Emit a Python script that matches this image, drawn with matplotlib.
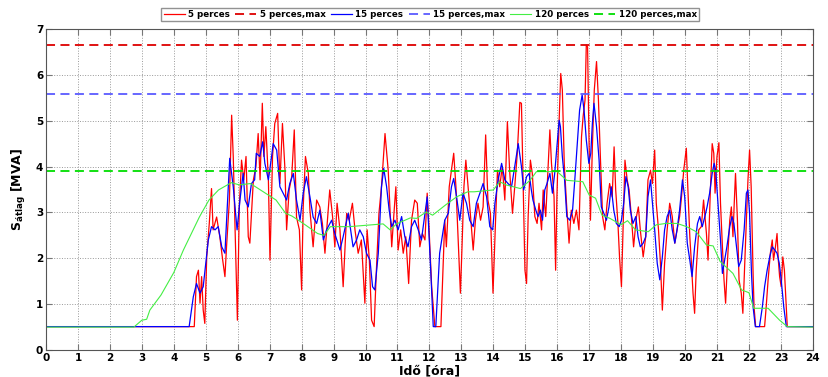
import matplotlib
matplotlib.use('Agg')
import matplotlib.pyplot as plt

# 5 perces atlag (hours, MVA)
t_5 = [0, 4.64, 4.71, 4.77, 4.82, 4.87, 4.92, 4.97, 5.03, 5.11, 5.18, 5.23, 5.34, 5.44, 5.53, 5.60, 5.65, 5.74,
       5.81, 5.86, 5.92, 5.99, 6.05, 6.12, 6.19, 6.26, 6.33, 6.38, 6.49, 6.57, 6.64, 6.70, 6.77, 6.82, 6.88, 6.96,
       7.01, 7.09, 7.16, 7.25, 7.32, 7.40, 7.48, 7.53, 7.61, 7.69, 7.77, 7.84, 7.93, 8.00, 8.05, 8.12, 8.21, 8.26,
       8.36, 8.47, 8.57, 8.65, 8.73, 8.88, 8.97, 9.04, 9.11, 9.20, 9.30, 9.41, 9.49, 9.59, 9.67, 9.77, 9.87, 9.98,
       10.05, 10.12, 10.19, 10.27, 10.34, 10.42, 10.50, 10.61, 10.71, 10.82, 10.89, 10.95, 11.02, 11.10, 11.18,
       11.26, 11.35, 11.44, 11.54, 11.62, 11.70, 11.78, 11.86, 11.93, 11.99, 12.07, 12.17, 12.36, 12.43, 12.48,
       12.53, 12.62, 12.69, 12.76, 12.83, 12.90, 12.97, 13.02, 13.08, 13.14, 13.21, 13.28, 13.37, 13.44, 13.52,
       13.60, 13.68, 13.76, 13.83, 13.91, 13.99, 14.07, 14.13, 14.20, 14.28, 14.36, 14.44, 14.51, 14.60, 14.67,
       14.75, 14.83, 14.88, 14.99, 15.04, 15.09, 15.16, 15.22, 15.30, 15.37, 15.43, 15.51, 15.56, 15.64, 15.71,
       15.77, 15.82, 15.90, 15.95, 15.99, 16.06, 16.11, 16.16, 16.22, 16.29, 16.37, 16.44, 16.52, 16.60, 16.68,
       16.76, 16.81, 16.87, 16.91, 16.95, 16.99, 17.04, 17.10, 17.16, 17.23, 17.29, 17.35, 17.42, 17.49, 17.56,
       17.64, 17.72, 17.78, 17.83, 17.90, 17.95, 18.01, 18.06, 18.12, 18.19, 18.25, 18.32, 18.39, 18.48, 18.54,
       18.60, 18.69, 18.77, 18.84, 18.92, 18.98, 19.05, 19.10, 19.17, 19.23, 19.29, 19.36, 19.44, 19.52, 19.60,
       19.68, 19.75, 19.83, 19.89, 19.96, 20.04, 20.09, 20.15, 20.20, 20.25, 20.30, 20.35, 20.43, 20.51, 20.58,
       20.67, 20.72, 20.79, 20.85, 20.90, 20.94, 21.00, 21.06, 21.11, 21.17, 21.22, 21.27, 21.33, 21.40, 21.45,
       21.50, 21.54, 21.58, 21.64, 21.69, 21.76, 21.81, 21.86, 21.92, 21.97, 22.02, 22.07, 22.13, 22.16, 22.21,
       22.49, 22.54, 22.60, 22.67, 22.73, 22.77, 22.83, 22.88, 22.92, 22.96, 23.01, 23.06, 23.11, 23.17, 23.20, 24]
s_5 = [0.51, 0.51, 1.6, 1.74, 1.02, 1.6, 0.87, 0.58, 2.03, 2.76, 3.52, 2.62, 2.9, 2.47, 1.96, 1.6, 2.25, 3.27,
       5.12, 4.22, 2.54, 0.65, 3.12, 4.14, 3.71, 4.22, 2.47, 2.33, 3.71, 4.0, 4.72, 3.71, 5.38, 4.22, 4.87, 3.71,
       1.96, 4.22, 4.94, 5.16, 3.63, 4.94, 3.92, 2.62, 3.49, 3.78, 4.8, 2.9, 2.62, 1.31, 3.12, 4.22, 3.85, 3.05,
       2.25, 3.27, 3.12, 2.76, 2.11, 3.49, 2.9, 2.25, 3.2, 2.62, 1.38, 2.98, 2.83, 3.2, 2.62, 2.11, 2.4, 1.02,
       2.62, 1.96, 0.65, 0.51, 1.74, 2.98, 3.56, 4.72, 3.92, 2.25, 2.98, 3.56, 2.18, 2.62, 2.11,
       2.47, 1.45, 2.83, 3.27, 3.2, 2.25, 2.54, 2.4, 3.42, 2.62, 1.38, 0.51, 0.51, 1.89, 2.83,
       2.25, 3.56, 3.92, 4.29, 3.56, 2.4, 1.24, 2.25, 3.56, 4.14, 3.56, 2.98, 2.18, 2.83, 3.2,
       2.83, 3.12, 4.69, 3.27, 2.98, 1.24, 2.83, 3.92, 3.56, 4.0, 3.27, 4.98, 3.92, 2.98, 3.56,
       4.29, 5.4, 5.38, 1.74, 1.45, 2.91, 4.14, 3.85, 2.91, 2.76, 3.2, 2.62, 3.49, 2.91, 3.92,
       4.8, 4.07, 3.34, 1.74, 3.34, 5.01, 6.03, 5.67, 4.07, 3.2, 2.33, 3.05, 2.76, 3.05, 2.62,
       4.65, 5.09, 5.45, 6.65, 6.61, 4.8, 2.83, 4.43, 5.67, 6.29, 5.45, 4.22, 2.91, 2.62, 3.2,
       3.63, 3.34, 4.43, 3.49, 2.76, 2.03, 1.38, 2.62, 4.14, 3.71, 3.49, 2.91, 2.25, 2.91, 3.12,
       2.62, 2.03, 2.47, 3.71, 3.92, 3.63, 4.36, 3.2, 2.62, 1.89, 0.87, 1.89, 2.62, 3.2, 2.91,
       2.33, 2.62, 2.91, 3.34, 3.92, 4.4, 3.49, 2.47, 1.89, 1.24, 0.8, 1.74, 2.62, 2.69, 3.27,
       2.54, 1.96, 3.42, 4.5, 4.29, 3.42, 4.22, 4.52, 3.2, 2.25, 1.53, 1.02, 1.96, 2.83, 3.12,
       2.47, 3.2, 3.85, 2.83, 1.53, 1.24, 0.8, 1.74, 2.83, 3.71, 4.36, 3.56, 1.67, 0.94, 0.51,
       0.51, 0.94, 1.53, 2.11, 2.4, 1.96, 2.25, 2.54, 1.96, 1.6, 1.38, 2.03, 1.74, 0.94, 0.51, 0.51]

# 15 perces atlag
t_15 = [0, 4.48, 4.61, 4.71, 4.82, 4.92, 4.97, 5.08, 5.18, 5.29, 5.39, 5.50, 5.60, 5.70, 5.75, 5.86, 5.98, 6.07,
        6.17, 6.23, 6.33, 6.43, 6.53, 6.58, 6.69, 6.78, 6.85, 6.96, 7.06, 7.11, 7.22, 7.32, 7.42, 7.53, 7.63, 7.74,
        7.84, 7.95, 8.05, 8.15, 8.26, 8.36, 8.47, 8.57, 8.68, 8.78, 8.94, 9.04, 9.20, 9.30, 9.46, 9.61, 9.72, 9.82,
        9.93, 10.03, 10.14, 10.22, 10.29, 10.40, 10.50, 10.57, 10.66, 10.74, 10.82, 10.92, 11.02, 11.13, 11.23,
        11.33, 11.44, 11.54, 11.65, 11.75, 11.86, 11.93, 11.98, 12.05, 12.12, 12.20, 12.32, 12.48, 12.59, 12.69,
        12.76, 12.85, 12.95, 13.05, 13.16, 13.26, 13.37, 13.47, 13.58, 13.68, 13.79, 13.89, 13.98, 14.05, 14.15,
        14.26, 14.36, 14.46, 14.57, 14.67, 14.78, 14.88, 14.95, 15.04, 15.12, 15.19, 15.24, 15.33, 15.40, 15.47,
        15.54, 15.61, 15.68, 15.77, 15.85, 15.92, 15.99, 16.06, 16.10, 16.16, 16.23, 16.30, 16.39, 16.48, 16.55,
        16.62, 16.70, 16.78, 16.84, 16.91, 16.99, 17.05, 17.10, 17.15, 17.23, 17.31, 17.38, 17.46, 17.54, 17.62,
        17.69, 17.77, 17.85, 17.94, 18.01, 18.08, 18.15, 18.22, 18.29, 18.37, 18.46, 18.53, 18.60, 18.69, 18.77,
        18.84, 18.92, 18.98, 19.05, 19.13, 19.21, 19.29, 19.36, 19.44, 19.52, 19.60, 19.68, 19.75, 19.83, 19.92,
        19.99, 20.07, 20.15, 20.22, 20.30, 20.39, 20.46, 20.54, 20.62, 20.69, 20.77, 20.85, 20.91, 20.96, 21.03,
        21.11, 21.17, 21.24, 21.31, 21.40, 21.47, 21.53, 21.61, 21.68, 21.76, 21.85, 21.92, 21.97, 22.02, 22.08,
        22.13, 22.20, 22.33, 22.42, 22.49, 22.57, 22.65, 22.73, 22.81, 22.88, 22.95, 23.01, 23.09, 23.17, 24]
s_15 = [0.51, 0.51, 1.16, 1.45, 1.24, 1.38, 1.7, 2.4, 2.69, 2.62, 2.69, 2.25, 2.11, 3.49, 4.18, 3.56, 2.62, 3.27,
        3.85, 3.27, 3.12, 3.63, 3.71, 4.29, 4.22, 4.54, 4.07, 3.71, 4.22, 4.5, 4.36, 3.56, 3.42, 3.27, 3.63, 3.85,
        3.27, 2.83, 3.42, 3.78, 3.34, 2.9, 2.76, 3.05, 2.4, 2.62, 2.83, 2.54, 2.18, 2.47, 2.98, 2.25, 2.4, 2.62,
        2.47, 2.11, 1.96, 1.38, 1.31, 2.11, 3.56, 3.96, 3.56, 3.05, 2.69, 2.83, 2.62, 2.91, 2.47,
        2.25, 2.69, 2.83, 2.62, 2.4, 2.98, 3.34, 2.62, 1.6, 0.51, 0.51, 2.11, 2.83, 2.98, 3.56,
        3.74, 3.34, 2.83, 3.42, 3.2, 2.83, 2.69, 3.2, 3.42, 3.63, 3.34, 2.69, 2.62, 3.2, 3.71,
        4.07, 3.71, 3.63, 3.56, 4.0, 4.5, 4.0, 3.49, 3.78, 3.85, 3.49, 3.27, 3.05, 2.91, 3.05,
        2.83, 3.49, 3.63, 3.85, 3.42, 3.85, 4.43, 5.01, 4.87, 4.22, 3.71, 2.91, 2.83, 3.05, 3.71,
        4.43, 5.23, 5.56, 5.23, 4.58, 4.07, 4.29, 4.94, 5.38, 4.87, 4.14, 3.12, 2.98, 2.83, 3.12,
        3.56, 3.05, 2.76, 2.69, 2.83, 3.2, 3.78, 3.56, 3.05, 2.76, 2.91, 2.47, 2.25, 2.33, 2.47,
        3.34, 3.71, 3.2, 2.62, 1.89, 1.53, 2.03, 2.62, 2.91, 3.05, 2.62, 2.33, 2.62, 3.05, 3.71,
        3.34, 2.33, 1.96, 1.6, 2.25, 2.76, 2.91, 2.69, 2.91, 3.12, 3.42, 3.85, 4.07, 3.92, 3.2,
        2.4, 1.67, 1.96, 2.25, 2.69, 2.91, 2.76, 2.25, 1.82, 1.96, 2.62, 3.42, 3.49, 2.98, 1.67,
        0.94, 0.51, 0.51, 0.94, 1.38, 1.74, 2.03, 2.25, 2.18, 2.11, 1.89, 1.53, 0.94, 0.51, 0.51]

# 120 perces atlag
t_120 = [0, 2.75, 3.0, 3.15, 3.25, 3.6, 4.0, 4.3, 4.8, 5.1, 5.4, 5.8, 6.05, 6.4, 6.8, 7.2, 7.5, 7.7, 8.05, 8.5,
         8.7, 8.9, 9.5, 10.55, 10.77, 10.97, 11.4, 11.6, 11.9, 12.1, 12.5, 12.85, 13.2, 13.4, 14.0, 14.2, 14.4,
         14.85, 15.15, 15.35, 16.0, 16.3, 16.8, 17.0, 17.2, 17.4, 17.65, 18.0, 18.2, 18.45, 18.85, 19.1, 19.4,
         19.75, 20.05, 20.35, 20.67, 20.88, 21.1, 21.5, 21.77, 22.0, 22.15, 22.6, 22.96, 23.2, 24]
s_120 = [0.5, 0.5, 0.65, 0.67, 0.87, 1.2, 1.69, 2.18, 2.9, 3.27, 3.49, 3.65, 3.6, 3.63, 3.45, 3.27, 2.98, 2.92,
         2.76, 2.54, 2.5, 2.69, 2.69, 2.75, 2.62, 2.75, 2.88, 2.87, 3.01, 2.94, 3.16, 3.34, 3.45, 3.45, 3.49,
         3.67, 3.6, 3.52, 3.7, 3.89, 3.89, 3.7, 3.67, 3.38, 3.31, 2.94, 2.87, 2.73, 2.82, 2.62, 2.58, 2.73, 2.76,
         2.76, 2.69, 2.58, 2.29, 2.27, 1.93, 1.67, 1.31, 1.25, 0.91, 0.91, 0.65, 0.51, 0.5]

max_5 = 6.65
max_15 = 5.58
max_120 = 3.91

fig = plt.figure(figsize=(8.29, 3.77), dpi=100)
ax = fig.add_axes([0.0555, 0.0716, 0.925, 0.8515])

ax.plot(t_5, s_5, color='#ff0000', lw=0.9, label='5 perces')
ax.axhline(max_5, color='#dd0000', lw=1.3, ls=(0, (5, 3)), label='5 perces,max')
ax.plot(t_15, s_15, color='#0000ff', lw=0.9, label='15 perces')
ax.axhline(max_15, color='#5a5aff', lw=1.3, ls=(0, (5, 3)), label='15 perces,max')
ax.plot(t_120, s_120, color='#44ee44', lw=0.8, label='120 perces')
ax.axhline(max_120, color='#00dd00', lw=1.3, ls=(0, (5, 3)), label='120 perces,max')

ax.set_xlim(0, 24)
ax.set_ylim(0, 7)
ax.set_xticks(range(0, 25))
ax.set_yticks(range(0, 8))
ax.grid(True, color='#999999', ls=':', lw=0.7)
ax.tick_params(direction='in', top=True, right=True, length=4, width=0.8, color='#777777',
               labelsize=7.5, pad=2)
for lab in ax.get_xticklabels() + ax.get_yticklabels():
    lab.set_fontweight('bold')
for sp in ax.spines.values():
    sp.set_color('#555555')

ax.set_xlabel('Idő [óra]', fontsize=9, fontweight='bold', labelpad=1)
ax.set_ylabel(r'S$_{\mathbf{átlag}}$ [MVA]', fontsize=9, fontweight='bold', labelpad=6)

fig.legend(loc='center', bbox_to_anchor=(0.519, 0.9615), ncol=6, frameon=True,
           fancybox=False, edgecolor='#777777', handlelength=2.4, handletextpad=0.4,
           columnspacing=0.6, borderpad=0.25, prop={'weight': 'bold', 'size': 6.3})

fig.savefig('out.png', dpi=100)
